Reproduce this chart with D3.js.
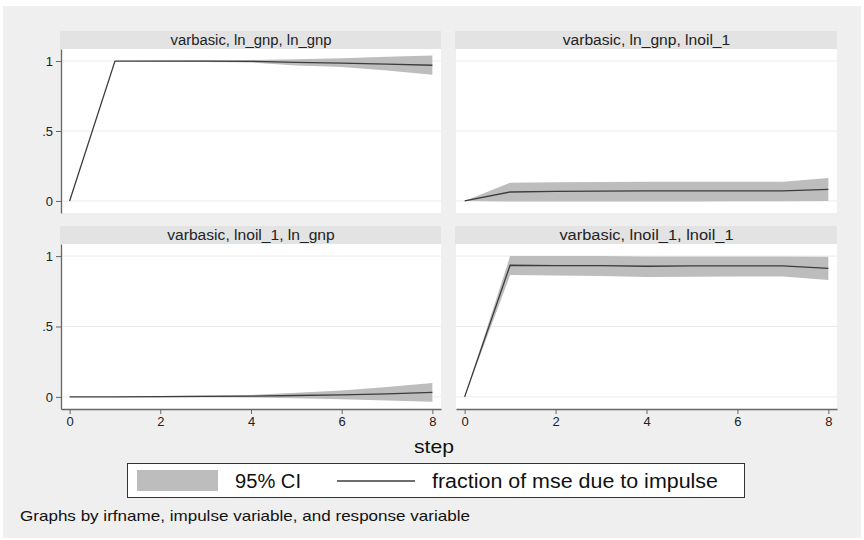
<!DOCTYPE html>
<html>
<head>
<meta charset="utf-8">
<script src="https://cdn.jsdelivr.net/npm/d3@7"></script>
<style>
  body { margin: 0; background: #fff; }
  text { font-family: "Liberation Sans", Arial, sans-serif; }
</style>
</head>
<body>
<div id="chart"></div>
<script>
// steps 0..8
const steps = [0, 1, 2, 3, 4, 5, 6, 7, 8];

const panelTitles = [
    "varbasic, ln_gnp, ln_gnp",
    "varbasic, ln_gnp, lnoil_1",
    "varbasic, lnoil_1, ln_gnp",
    "varbasic, lnoil_1, lnoil_1"
];

// fraction of mse due to impulse
const fevd = [
    [0, 1.0, 1.0, 1.0, 0.998, 0.99, 0.985, 0.978, 0.97],
    [0, 0.064, 0.068, 0.07, 0.072, 0.072, 0.072, 0.072, 0.083],
    [0, 0.0, 0.002, 0.004, 0.005, 0.01, 0.015, 0.022, 0.032],
    [0, 0.935, 0.932, 0.932, 0.928, 0.93, 0.93, 0.93, 0.913]
];

// 95% CI lower / upper
const ciLower = [
    [0, 1.0, 0.996, 0.993, 0.99, 0.968, 0.958, 0.932, 0.902],
    [0, -0.004, -0.004, -0.003, -0.003, -0.003, -0.002, -0.002, 0.0],
    [0, 0.0, -0.002, -0.003, -0.004, -0.01, -0.016, -0.025, -0.034],
    [0, 0.865, 0.862, 0.858, 0.852, 0.853, 0.855, 0.855, 0.83]
];
const ciUpper = [
    [0, 1.0, 1.004, 1.006, 1.008, 1.012, 1.02, 1.03, 1.04],
    [0, 0.13, 0.133, 0.136, 0.138, 0.138, 0.138, 0.138, 0.165],
    [0, 0.0, 0.006, 0.01, 0.014, 0.03, 0.045, 0.07, 0.098],
    [0, 1.0, 1.0, 1.0, 0.998, 0.998, 0.998, 0.998, 0.995]
];

const yTicks = [0, 0.5, 1];
const yTickLabels = ["0", ".5", "1"];
const xTicks = [0, 2, 4, 6, 8];

const W = 864, H = 540;
const svg = d3.select("#chart").append("svg")
    .attr("width", W)
    .attr("height", H);

svg.append("rect")
    .attr("x", 3).attr("y", 6)
    .attr("width", 858).attr("height", 532)
    .attr("fill", "#efefef");

// panel boxes (plot area), title strip sits above
const cols = [{left: 61, right: 441}, {left: 456, right: 837}];
const rows = [{top: 49, bottom: 213}, {top: 244, bottom: 409}];
const stripH = 18;

panelTitles.forEach((title, i) => {
    let c = cols[i % 2], r = rows[Math.floor(i / 2)];

    let x = d3.scaleLinear().domain([-0.19, 8.19]).range([c.left, c.right]);
    let y = d3.scaleLinear().domain([-0.086, 1.086]).range([r.bottom, r.top]);

    let g = svg.append("g");

    // title strip
    g.append("rect")
        .attr("x", c.left - 1).attr("y", r.top - stripH)
        .attr("width", c.right - c.left + 1).attr("height", stripH)
        .attr("fill", "#e3e3e3");
    g.append("text")
        .attr("x", (c.left + c.right) / 2)
        .attr("y", r.top - 4.5)
        .attr("text-anchor", "middle")
        .attr("font-size", 14)
        .attr("fill", "#222")
        .attr("textLength", title.length * 6.7)
        .attr("lengthAdjust", "spacingAndGlyphs")
        .text(title);

    // plot area
    g.append("rect")
        .attr("x", c.left).attr("y", r.top)
        .attr("width", c.right - c.left).attr("height", r.bottom - r.top)
        .attr("fill", "#fff");

    // grid
    g.selectAll(".grid")
        .data(yTicks)
        .enter().append("line")
        .attr("x1", c.left).attr("x2", c.right)
        .attr("y1", d => y(d)).attr("y2", d => y(d))
        .attr("stroke", "#ececec")
        .attr("stroke-width", 1);

    let data = steps.map((s, j) => ({step: s, v: fevd[i][j], lo: ciLower[i][j], hi: ciUpper[i][j]}));

    g.append("path")
        .datum(data)
        .attr("fill", "#bdbdbd")
        .attr("d", d3.area().x(d => x(d.step)).y0(d => y(d.lo)).y1(d => y(d.hi)));

    g.append("path")
        .datum(data)
        .attr("fill", "none")
        .attr("stroke", "#3c3c3c")
        .attr("stroke-width", 1.3)
        .attr("d", d3.line().x(d => x(d.step)).y(d => y(d.v)));

    // y axis on left column only
    if (i % 2 === 0) {
        let yAxis = d3.axisLeft(y)
            .tickValues(yTicks)
            .tickFormat((d, k) => yTickLabels[k])
            .tickSize(5)
            .tickSizeOuter(0);
        let ya = g.append("g")
            .attr("transform", `translate(${c.left},0)`)
            .call(yAxis);
        ya.select(".domain").attr("stroke", "#666").attr("stroke-width", 1.3);
        ya.selectAll(".tick line").attr("stroke", "#666");
        ya.selectAll(".tick text").attr("font-size", 13).attr("fill", "#222")
            .attr("font-family", "Liberation Sans, Arial, sans-serif");
    }

    // x axis on bottom row only
    if (i >= 2) {
        let xAxis = d3.axisBottom(x)
            .tickValues(xTicks)
            .tickSize(5)
            .tickSizeOuter(0);
        let xa = g.append("g")
            .attr("transform", `translate(0,${r.bottom})`)
            .call(xAxis);
        xa.select(".domain").attr("stroke", "#666").attr("stroke-width", 1.3);
        xa.selectAll(".tick line").attr("stroke", "#666");
        xa.selectAll(".tick text").attr("font-size", 13).attr("fill", "#222")
            .attr("font-family", "Liberation Sans, Arial, sans-serif");
    }
});

// x axis title
svg.append("text")
    .attr("x", 434).attr("y", 453)
    .attr("text-anchor", "middle")
    .attr("font-size", 19)
    .attr("fill", "#111")
    .attr("textLength", 40)
    .attr("lengthAdjust", "spacingAndGlyphs")
    .text("step");

// legend
let lg = svg.append("g");
lg.append("rect")
    .attr("x", 127.5).attr("y", 463.5)
    .attr("width", 617).attr("height", 34)
    .attr("fill", "#fff")
    .attr("stroke", "#333")
    .attr("stroke-width", 1);
lg.append("rect")
    .attr("x", 137).attr("y", 470)
    .attr("width", 81).attr("height", 21)
    .attr("fill", "#bdbdbd");
lg.append("text")
    .attr("x", 235).attr("y", 488)
    .attr("font-size", 20)
    .attr("fill", "#111")
    .attr("textLength", 66)
    .attr("lengthAdjust", "spacingAndGlyphs")
    .text("95% CI");
lg.append("line")
    .attr("x1", 337).attr("x2", 415)
    .attr("y1", 481).attr("y2", 481)
    .attr("stroke", "#3c3c3c")
    .attr("stroke-width", 1.3);
lg.append("text")
    .attr("x", 432).attr("y", 488)
    .attr("font-size", 20)
    .attr("fill", "#111")
    .attr("textLength", 286)
    .attr("lengthAdjust", "spacingAndGlyphs")
    .text("fraction of mse due to impulse");

// note
svg.append("text")
    .attr("x", 20).attr("y", 521)
    .attr("font-size", 15)
    .attr("fill", "#111")
    .attr("textLength", 450)
    .attr("lengthAdjust", "spacingAndGlyphs")
    .text("Graphs by irfname, impulse variable, and response variable");
</script>
</body>
</html>
